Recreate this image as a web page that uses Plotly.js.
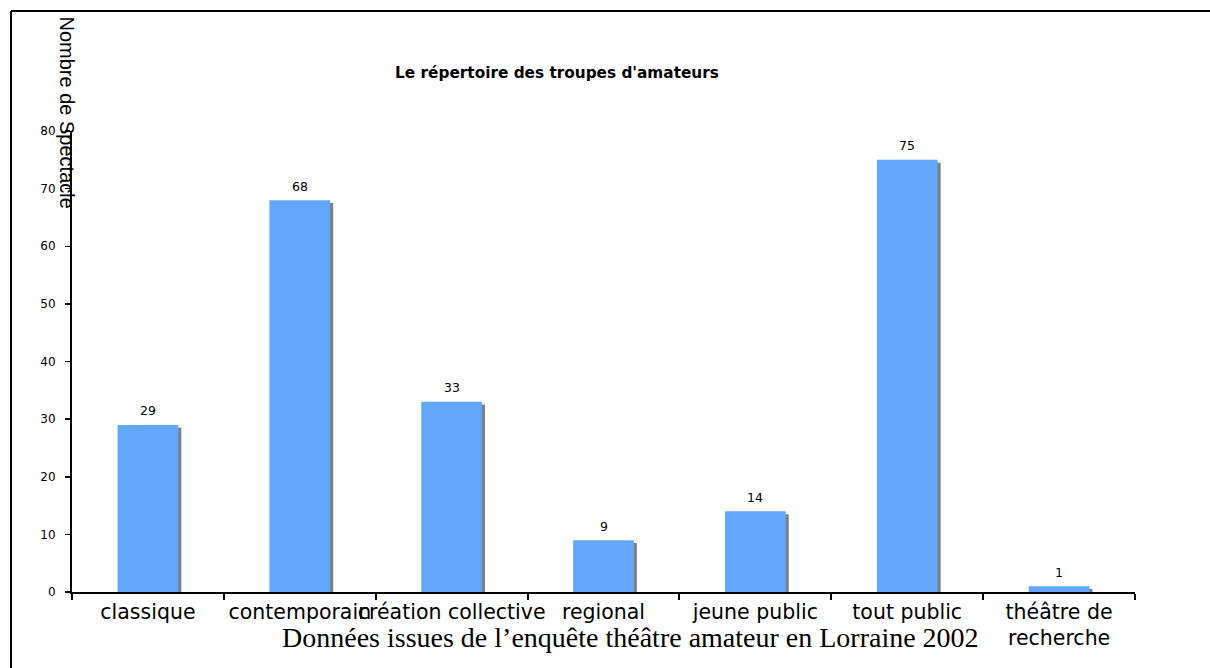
<!DOCTYPE html>
<html>
<head>
<meta charset="utf-8">
<script src="https://cdn.plot.ly/plotly-3.0.1.min.js"></script>
<style>
html,body{margin:0;padding:0;background:#fff;}
#chart{width:1210px;height:668px;}
</style>
</head>
<body>
<div id="chart"></div>
<script>
const categories = ["classique", "contemporain", "création collective", "regional", "jeune public", "tout public", "théâtre de<br>recherche"];
const values = [29, 68, 33, 9, 14, 75, 1];
const yTicks = [0, 10, 20, 30, 40, 50, 60, 70, 80];
const chartTitle = "Le répertoire des troupes d'amateurs";
const yTitle = "Nombre de Spectacle";
const footer = "Données issues de l’enquête théâtre amateur en Lorraine 2002";

const barColor = "#62A7FC";
const shadowColor = "#7F7F7F";

const shadow = {
  type: "bar", x: categories, y: values, base: -0.5,
  width: 0.4, offset: -0.18,
  marker: {color: shadowColor, line: {width: 0}},
  hoverinfo: "skip", showlegend: false
};
const bars = {
  type: "bar", x: categories, y: values,
  width: 0.4, offset: -0.2,
  marker: {color: barColor, line: {width: 0}},
  showlegend: false
};

const annotations = values.map((v, i) => ({
  x: categories[i], y: v, xref: "x", yref: "y",
  text: String(v), showarrow: false,
  xanchor: "center", yanchor: "middle", yshift: 14,
  font: {family: "DejaVu Sans", size: 12.5, color: "#000"}
}));
annotations.push({
  xref: "paper", yref: "paper", x: (67 - 72) / 1063, y: (592 - 112.5) / 461,
  text: yTitle, textangle: 90, showarrow: false,
  xanchor: "center", yanchor: "middle",
  font: {family: "Liberation Sans", size: 20, color: "#000"}
});
annotations.push({
  xref: "paper", yref: "paper", x: (630.5 - 72) / 1063, y: (592 - 637.5) / 461,
  text: footer, showarrow: false,
  xanchor: "center", yanchor: "middle",
  font: {family: "Liberation Serif", size: 28, color: "#000"}
});

const layout = {
  width: 1210, height: 668,
  margin: {l: 72, r: 75, t: 131, b: 76},
  paper_bgcolor: "#fff", plot_bgcolor: "#fff",
  barmode: "overlay",
  title: {
    text: "<b>" + chartTitle + "</b>",
    xref: "container", yref: "container",
    x: 557 / 1210, y: 1 - 73 / 668, xanchor: "center", yanchor: "middle",
    font: {family: "DejaVu Sans", size: 15.3, color: "#000"}
  },
  xaxis: {
    type: "category", tickangle: 0,
    showline: true, linecolor: "#000", linewidth: 2,
    ticks: "outside", tickson: "boundaries", ticklen: 6, tickwidth: 2, tickcolor: "#000",
    showgrid: false, zeroline: false,
    tickfont: {family: "DejaVu Sans", size: 20.5, color: "#000"},
    range: [-0.5, 6.5], fixedrange: true
  },
  yaxis: {
    range: [0, 80], tickvals: yTicks,
    showline: true, linecolor: "#000", linewidth: 2,
    ticks: "outside", ticklen: 5, tickwidth: 1.5, tickcolor: "#000",
    ticklabelstandoff: 7,
    showgrid: false, zeroline: false,
    tickfont: {family: "DejaVu Sans", size: 12, color: "#000"}
  },
  annotations: annotations,
  shapes: [
    {type: "line", xref: "paper", yref: "paper",
     x0: (11 - 72) / 1063, x1: (11 - 72) / 1063, y0: (592 - 11) / 461, y1: (592 - 700) / 461,
     line: {color: "#000", width: 2}},
    {type: "line", xref: "paper", yref: "paper",
     x0: (11 - 72) / 1063, x1: (1230 - 72) / 1063, y0: (592 - 11) / 461, y1: (592 - 11) / 461,
     line: {color: "#000", width: 2}}
  ]
};

Plotly.newPlot("chart", [shadow, bars], layout, {displayModeBar: false, staticPlot: true});
</script>
</body>
</html>
